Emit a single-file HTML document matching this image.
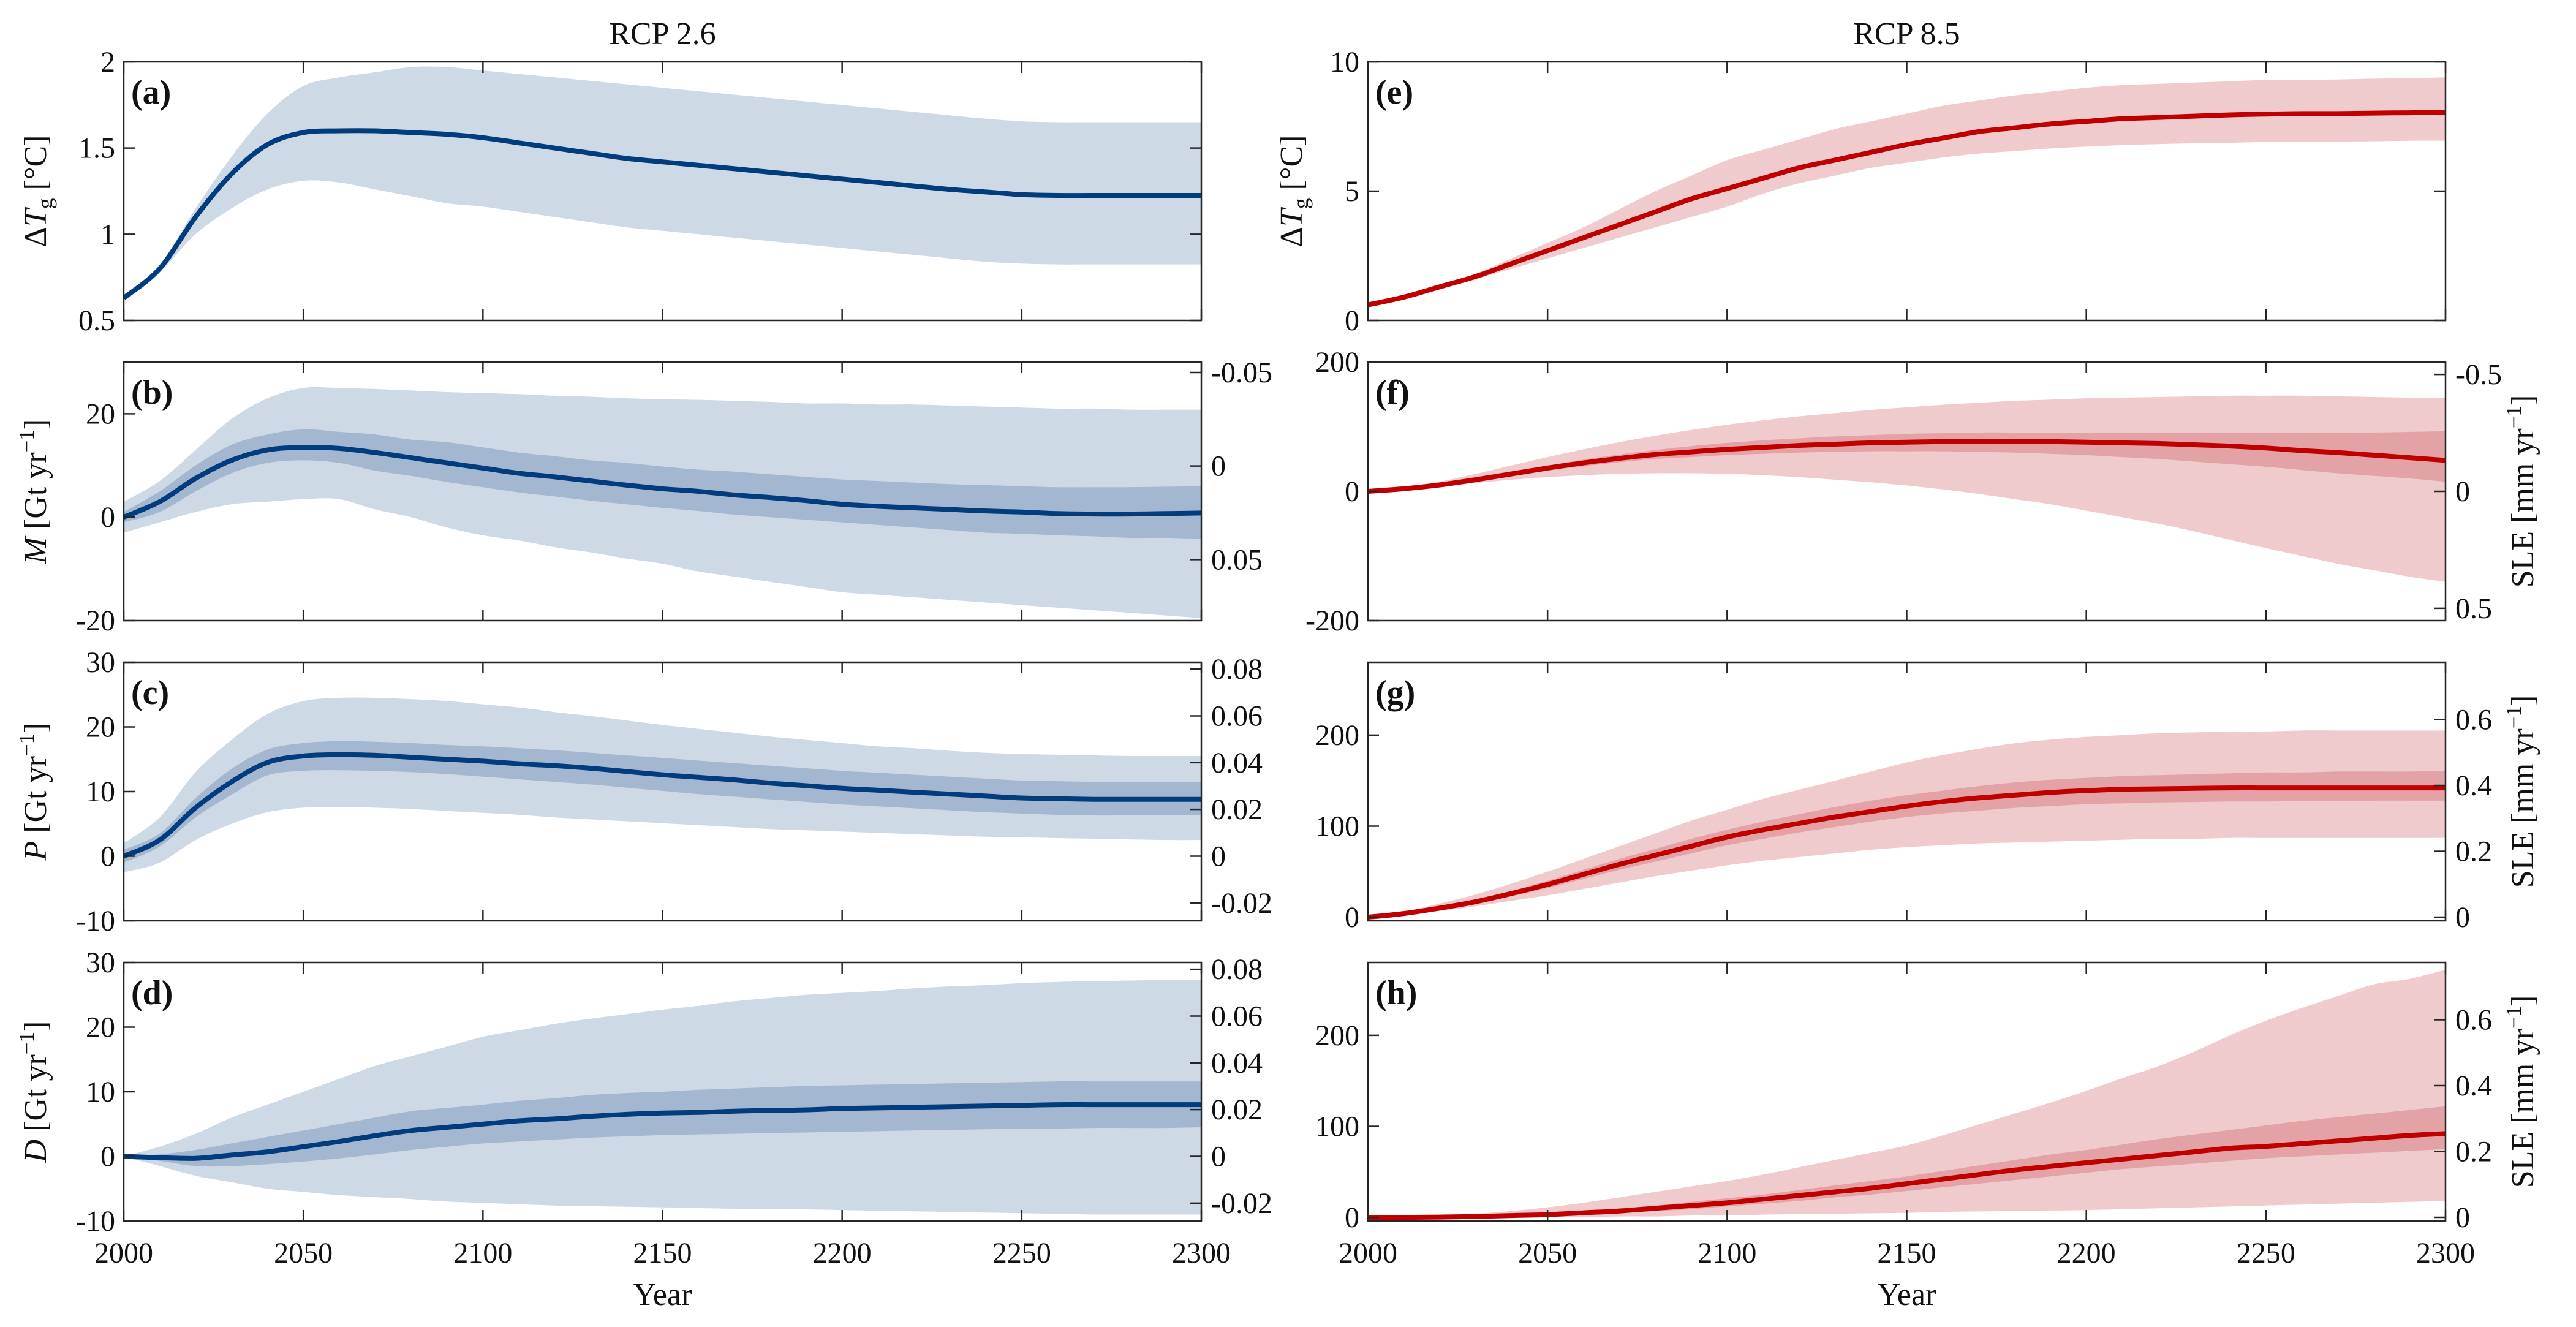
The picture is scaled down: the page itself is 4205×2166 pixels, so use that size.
<!DOCTYPE html>
<html><head><meta charset="utf-8"><style>
html,body{margin:0;padding:0;background:#fff}
svg{display:block}
text{font-family:"Liberation Serif",serif;fill:#111}
</style></head><body>
<svg id="fig" width="4205" height="2166" viewBox="0 0 4205 2166" xmlns="http://www.w3.org/2000/svg"></svg>
<script>
const years = [2000,2010,2020,2030,2040,2050,2060,2070,2080,2090,2100,2110,2120,2130,2140,2150,2160,2170,2180,2190,2200,2210,2220,2230,2240,2250,2260,2270,2280,2290,2300];
const xTicks = [2000,2050,2100,2150,2200,2250,2300];
// (a)
const aMean = [0.63,0.8,1.1,1.35,1.52,1.59,1.6,1.6,1.59,1.58,1.56,1.53,1.5,1.47,1.44,1.42,1.4,1.38,1.36,1.34,1.32,1.3,1.28,1.26,1.245,1.23,1.225,1.225,1.225,1.225,1.225];
const aUp = [0.63,0.82,1.15,1.45,1.7,1.86,1.91,1.94,1.97,1.97,1.95,1.93,1.91,1.89,1.87,1.85,1.83,1.81,1.79,1.77,1.75,1.73,1.71,1.69,1.67,1.655,1.65,1.65,1.65,1.65,1.65];
const aLo = [0.63,0.78,1.0,1.15,1.26,1.31,1.3,1.26,1.22,1.18,1.16,1.13,1.1,1.07,1.04,1.02,1.0,0.98,0.96,0.94,0.92,0.9,0.88,0.86,0.84,0.83,0.825,0.825,0.825,0.825,0.825];
// (b)
const bMean = [0,3,7.5,11,13,13.5,13.3,12.5,11.5,10.5,9.5,8.5,7.8,7,6.2,5.5,5,4.3,3.8,3.2,2.5,2.1,1.8,1.5,1.2,1,0.7,0.6,0.6,0.7,0.8];
const bDU = [1,5,10,14,16,17,16.5,16,15,14.5,13.5,12.5,11.8,11,10.5,9.8,9.2,8.8,8.3,7.8,7.3,7,6.7,6.4,6.2,6,5.8,5.8,5.8,5.9,6];
const bDL = [-1,1,5,8.5,10.5,11,10.5,9,8,6.8,5.8,4.8,4,3.2,2.5,1.8,1.2,0.5,0,-0.5,-1,-1.5,-2,-2.5,-3,-3.2,-3.5,-3.7,-4,-4,-4.2];
const bLU = [3,7,13,19,23,25,25,24.8,24.5,24.2,24,23.8,23.5,23.3,23,22.8,22.7,22.5,22.3,22,22,21.8,21.8,21.6,21.4,21.2,21,21,20.8,20.8,20.8];
const bLL = [-3,-1,1,2.5,3,3.5,3.5,1.5,0,-2,-3.5,-4.5,-5.8,-6.8,-8,-9,-10.5,-11.5,-12.5,-13.5,-14.5,-15,-15.5,-16,-16.5,-17,-17.5,-18,-18.5,-19,-19.5];
// (c)
const cMean = [0,2.5,7.5,11.5,14.5,15.5,15.7,15.6,15.3,15,14.7,14.3,14,13.6,13.1,12.6,12.2,11.8,11.3,10.9,10.5,10.2,9.9,9.6,9.3,9,8.9,8.8,8.8,8.8,8.8];
const cDU = [1,3.5,9,13.5,16.5,17.5,17.8,17.7,17.5,17.2,17,16.7,16.4,16,15.6,15.2,14.8,14.4,14,13.6,13.2,12.9,12.6,12.3,12,11.7,11.6,11.5,11.5,11.5,11.5];
const cDL = [-1,1.5,6,9.5,12.5,13.2,13.3,13.2,13,12.7,12.3,11.9,11.5,11.1,10.6,10.1,9.6,9.2,8.8,8.4,8,7.7,7.4,7.1,6.8,6.6,6.4,6.3,6.3,6.3,6.3];
const cLU = [2,6,13,18,22,24,24.5,24.5,24.3,24,23.5,23,22.3,21.7,21,20.3,19.7,19.1,18.5,18,17.5,17,16.7,16.3,16,15.8,15.7,15.6,15.5,15.5,15.5];
const cLL = [-2.5,-1,2.5,5,6.8,7.5,7.6,7.5,7.3,7,6.7,6.4,6,5.7,5.4,5.1,4.8,4.5,4.2,4,3.8,3.6,3.4,3.2,3,2.9,2.8,2.7,2.6,2.5,2.5];
// (d)
const dMean = [0,-0.2,-0.3,0.2,0.7,1.5,2.3,3.2,4,4.5,5,5.5,5.8,6.2,6.5,6.7,6.8,7,7.1,7.2,7.4,7.5,7.6,7.7,7.8,7.9,8,8,8,8,8];
const dDU = [0,0.3,1,2,3,4,5,6,7,7.5,8,8.6,9,9.5,9.8,10,10.3,10.5,10.7,10.9,11,11.1,11.2,11.3,11.4,11.5,11.6,11.6,11.6,11.6,11.6];
const dDL = [0,-0.7,-1.5,-1.5,-1.2,-0.8,-0.3,0.3,1,1.5,2,2.3,2.6,2.9,3.1,3.3,3.4,3.5,3.6,3.7,3.8,3.9,4,4.1,4.2,4.3,4.3,4.4,4.4,4.4,4.5];
const dLU = [0,1.5,3.5,6,8,10,12,14,15.5,17,18.5,19.5,20.5,21.3,22,22.7,23.3,24,24.5,25,25.3,25.6,26,26.3,26.5,26.8,27,27.1,27.2,27.3,27.3];
const dLL = [0,-1.5,-3,-4,-5,-5.5,-6,-6.3,-6.6,-7,-7.2,-7.4,-7.6,-7.7,-7.8,-7.9,-8,-8.1,-8.2,-8.2,-8.3,-8.4,-8.5,-8.6,-8.7,-8.8,-8.9,-9,-9,-9,-9];
// (e)
const eMean = [0.6,0.9,1.3,1.7,2.2,2.7,3.2,3.7,4.2,4.7,5.1,5.5,5.9,6.2,6.5,6.8,7.05,7.3,7.45,7.6,7.7,7.8,7.85,7.9,7.95,7.98,8,8,8.02,8.03,8.05];
const eUp = [0.6,0.9,1.3,1.8,2.4,3,3.6,4.3,5,5.6,6.2,6.6,7,7.4,7.7,8,8.3,8.5,8.7,8.85,9,9.1,9.15,9.2,9.25,9.3,9.3,9.32,9.35,9.37,9.4];
const eLo = [0.6,0.9,1.25,1.6,2,2.4,2.8,3.2,3.6,4,4.4,4.9,5.3,5.6,5.9,6.1,6.3,6.45,6.55,6.65,6.72,6.78,6.82,6.85,6.87,6.9,6.9,6.92,6.93,6.95,6.95];
// (f)
const fMean = [0,4,10,18,27,36,44,51,57,61,65,68,71,73,75,76,77,77.5,77.5,77,76,75,74,72,70,67,63,60,56,52,48];
const fDU = [0,5,11,20,30,40,49,57,64,70,75,79,82,85,87,89,90,91,91,91,91,91,91,91,91,91,91,91,91,92,93];
const fDL = [0,3,9,16,24,32,39,45,50,53,56,58,60,61,62,62,62,61,60,58,56,53,50,46,42,38,33,28,24,20,15];
const fLU = [0,6,15,27,40,53,65,76,86,95,103,110,116,121,126,130,134,137,140,142,144,145,146,147,148,148,148,147,146,145,145];
const fLL = [0,3,8,13,18,22,25,27,28,28,27,25,22,18,14,9,3,-4,-12,-20,-30,-40,-50,-62,-75,-88,-100,-112,-122,-132,-140];
// (g)
const gMean = [0,4,10,17,26,36,47,58,68,78,88,96,103,110,116,122,127,131,134,137,139,140.5,141,141.5,142,142,142,142,142,142,142];
const gDU = [0,5,11,19,29,40,52,64,75,86,96,105,113,121,128,134,139,144,148,151,153,155,156,157,158,159,159,160,160,160,161];
const gDL = [0,3,9,15,23,32,42,52,61,70,79,86,93,99,105,110,114,117,120,122,124,125,126,126.5,127,127,127.5,127.5,128,128,128];
const gLU = [0,6,15,25,37,50,64,78,92,106,118,130,140,150,160,170,178,185,191,195,198,200,202,203,204,204,205,205,205,205,205];
const gLL = [0,3,7,12,18,24,31,38,45,51,57,62,66,70,74,77,79,81,82,83,84,85,86,86,87,87,87,87,87,87,87];
// (h)
const hMean = [0,0,0.3,1,2,3,5,7,10,13,16,20,24,28,32,37,42,47,52,56,60,64,68,72,76,78,81,84,87,90,92];
const hDU = [0,0.5,1,2,3.5,5,7,10,13,17,21,25,30,35,40,45,51,57,63,69,74,80,86,91,96,101,106,110,114,118,122];
const hDL = [0,0,0,0.5,1,2,3,5,7,9,12,15,18,22,25,29,33,37,41,45,49,53,56,59,62,65,67,69,71,73,75];
const hLU = [0,1,2,4,7,11,16,22,28,34,40,47,55,63,71,79,90,102,114,126,139,153,166,182,200,216,230,243,256,262,272];
const hLL = [0,0,0,0,0,0,0,1,1,2,2,3,3.5,4,4.5,5,6,6.5,7,7.5,8,9,10,11,12,13,14,15,16,17,18];

const tA = [0.5,1,1.5,2], tB = [-20,0,20], tC = [-10,0,10,20,30], tE = [0,5,10], tF = [-200,0,200], tG = [0,100,200];
const rB = [-0.05,0,0.05], rC = [-0.02,0,0.02,0.04,0.06,0.08], rF = [-0.5,0,0.5], rG = [0,0.2,0.4,0.6];

const NS = "http://www.w3.org/2000/svg";
const svg = document.getElementById('fig');
function el(tag, attrs, parent){ const e=document.createElementNS(NS,tag); for(const k in attrs) e.setAttribute(k,attrs[k]); (parent||svg).appendChild(e); return e; }
const BLUE = {line:'#003c7e', light:'#cdd9e5', dark:'#a3b8d0'};
const RED = {line:'#c00000', light:'#f0cbcd', dark:'#e3a3a6'};
const LX = [202,1961], RX = [2233,3992];
const TOPS = [101,591,1081,1571], H = 422;

function smooth(pts, start){
  let d = (start?'M':'L')+pts[0][0].toFixed(1)+','+pts[0][1].toFixed(1);
  for(let i=0;i<pts.length-1;i++){
    const p0=pts[Math.max(0,i-1)], p1=pts[i], p2=pts[i+1], p3=pts[Math.min(pts.length-1,i+2)];
    const c1=[p1[0]+(p2[0]-p0[0])/6, p1[1]+(p2[1]-p0[1])/6];
    const c2=[p2[0]-(p3[0]-p1[0])/6, p2[1]-(p3[1]-p1[1])/6];
    d+='C'+c1[0].toFixed(1)+','+c1[1].toFixed(1)+' '+c2[0].toFixed(1)+','+c2[1].toFixed(1)+' '+p2[0].toFixed(1)+','+p2[1].toFixed(1);
  }
  return d;
}

function panel(cfg){
  const g = el('g',{});
  
  
  const [x0,x1] = cfg.xr, y0 = cfg.top, y1 = cfg.top+H;
  const sx = v => x0 + (v-2000)/300*(x1-x0);
  const sy = v => y1 - (v-cfg.ymin)/(cfg.ymax-cfg.ymin)*H;
  const clip = el('clipPath',{id:'c'+cfg.id},g); el('rect',{x:x0,y:y0,width:x1-x0,height:H},clip);
  const body = el('g',{'clip-path':'url(#c'+cfg.id+')'},g);
  function band(up, lo, col, name){
    const pu = years.map((yr,i)=>[sx(yr),sy(up[i])]);
    const pl = years.map((yr,i)=>[sx(yr),sy(lo[i])]).reverse();
    const p = el('path',{d:smooth(pu,true)+smooth(pl,false)+'Z',fill:col},body);
    
    
  }
  band(cfg.lu, cfg.ll, cfg.c.light, 'band-outer-'+cfg.id);
  if(cfg.du) band(cfg.du, cfg.dl, cfg.c.dark, 'band-inner-'+cfg.id);
  const ln = el('path',{d:smooth(years.map((yr,i)=>[sx(yr),sy(cfg.mean[i])]),true),fill:'none',stroke:cfg.c.line,'stroke-width':8,'stroke-linejoin':'round'},body);
  
  
  const ax = {stroke:'#262626','stroke-width':2.5,fill:'none'};
  el('rect',{x:x0,y:y0,width:x1-x0,height:H,...ax},g);
  const TL=18;
  xTicks.forEach(t=>{
    el('line',{x1:sx(t),x2:sx(t),y1:y1,y2:y1-TL,...ax},g);
    el('line',{x1:sx(t),x2:sx(t),y1:y0,y2:y0+TL,...ax},g);
    if(cfg.bottom){
      const tx = el('text',{x:sx(t),y:y1+68,'font-size':48,'text-anchor':'middle'},g);
      tx.textContent = t;
      
      
    }
  });
  cfg.ticks.forEach(t=>{
    const y = sy(t);
    el('line',{x1:x0,x2:x0+TL,y1:y,y2:y,...ax},g);
    if(!cfg.rticks) el('line',{x1:x1,x2:x1-TL,y1:y,y2:y,...ax},g);
    const tx = el('text',{x:x0-14,y:y+16,'font-size':48,'text-anchor':'end'},g);
    tx.textContent = t;
    
    
  });
  if(cfg.rticks){
    cfg.rticks.forEach(r=>{
      const y = sy(cfg.rmap(r));
      el('line',{x1:x1,x2:x1-TL,y1:y,y2:y,...ax},g);
      const tx = el('text',{x:x1+16,y:y+16,'font-size':48,'text-anchor':'start'},g);
      tx.textContent = r;
      
      
    });
  }
  const lab = el('text',{x:x0+12,y:y0+68,'font-size':56,'font-weight':'bold'},g);
  lab.textContent = '('+cfg.id+')';
  
  
  if(cfg.ylab){
    const cx = cfg.ylabX, cy = y0+H/2;
    const t = el('text',{x:cx,y:cy,'font-size':52,'text-anchor':'middle',transform:'rotate(-90 '+cx+' '+cy+')'},g);
    t.innerHTML = cfg.ylab;
    
    
  }
  if(cfg.rticks && cfg.sle){
    const cx = 4135, cy = y0+H/2;
    const t = el('text',{x:cx,y:cy,'font-size':52,'text-anchor':'middle',transform:'rotate(-90 '+cx+' '+cy+')'},g);
    t.innerHTML = 'SLE [mm yr<tspan dy="-20" font-size="35">−1</tspan><tspan dy="20">]</tspan>';
    
    
  }
}
const GT = 361.8;
const dT = 'Δ<tspan font-style="italic">T</tspan><tspan dy="10" font-size="35">g</tspan><tspan dy="-10"> [°C]</tspan>';
const gty = v => '<tspan font-style="italic">'+v+'</tspan> [Gt yr<tspan dy="-20" font-size="35">−1</tspan><tspan dy="20">]</tspan>';
panel({id:'a',xr:LX,top:TOPS[0],ymin:0.5,ymax:2,ticks:tA,mean:aMean,lu:aUp,ll:aLo,c:BLUE,ylab:dT,ylabX:75});
panel({id:'b',xr:LX,top:TOPS[1],ymin:-20,ymax:30,ticks:tB,mean:bMean,lu:bLU,ll:bLL,du:bDU,dl:bDL,c:BLUE,ylab:gty('M'),ylabX:75,rticks:rB,rmap:r=>9.9-r*GT});
panel({id:'c',xr:LX,top:TOPS[2],ymin:-10,ymax:30,ticks:tC,mean:cMean,lu:cLU,ll:cLL,du:cDU,dl:cDL,c:BLUE,ylab:gty('P'),ylabX:75,rticks:rC,rmap:r=>r*GT});
panel({id:'d',xr:LX,top:TOPS[3],ymin:-10,ymax:30,ticks:tC,mean:dMean,lu:dLU,ll:dLL,du:dDU,dl:dDL,c:BLUE,ylab:gty('D'),ylabX:75,rticks:rC,rmap:r=>r*GT,bottom:true});
panel({id:'e',xr:RX,top:TOPS[0],ymin:0,ymax:10,ticks:tE,mean:eMean,lu:eUp,ll:eLo,c:RED,ylab:dT,ylabX:2125});
panel({id:'f',xr:RX,top:TOPS[1],ymin:-200,ymax:200,ticks:tF,mean:fMean,lu:fLU,ll:fLL,du:fDU,dl:fDL,c:RED,rticks:rF,rmap:r=>-r*GT,sle:true});
panel({id:'g',xr:RX,top:TOPS[2],ymin:-4,ymax:280,ticks:tG,mean:gMean,lu:gLU,ll:gLL,du:gDU,dl:gDL,c:RED,rticks:rG,rmap:r=>r*GT,sle:true});
panel({id:'h',xr:RX,top:TOPS[3],ymin:-4,ymax:280,ticks:tG,mean:hMean,lu:hLU,ll:hLL,du:hDU,dl:hDL,c:RED,rticks:rG,rmap:r=>r*GT,sle:true,bottom:true});

[['RCP 2.6',(LX[0]+LX[1])/2],['RCP 8.5',(RX[0]+RX[1])/2]].forEach(([s,x])=>{
  const t = el('text',{x:x,y:72,'font-size':52,'text-anchor':'middle'});
  t.textContent = s;
  
  
});
[LX,RX].forEach(r=>{
  const t = el('text',{x:(r[0]+r[1])/2,y:2130,'font-size':52,'text-anchor':'middle'});
  t.textContent = 'Year';
  
  
});
</script>
</body></html>
